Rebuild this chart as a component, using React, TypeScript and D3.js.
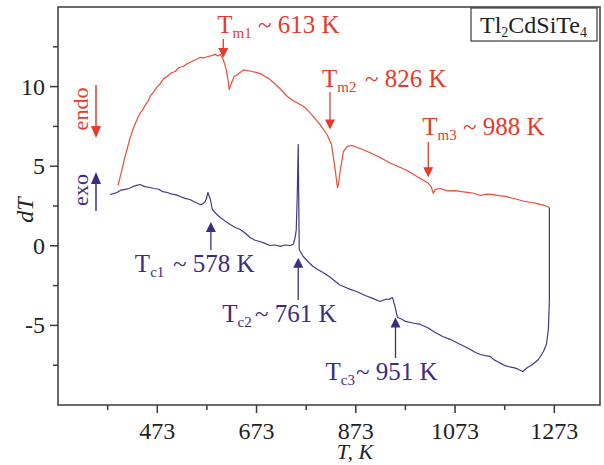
import React from "react";
import * as d3 from "d3";

// Heating (endo) curve: temperature K, dT
const heatT = [394, 398, 402, 407, 412, 418, 424, 429, 434, 440, 444, 450, 454, 460, 465, 472, 479, 486, 493, 501, 509, 517, 525, 534, 543, 551, 559, 567, 575, 583, 590, 595, 600, 606, 612, 616, 618, 622, 628, 634, 640, 647, 654, 664, 674, 682, 690, 698, 707, 721, 735, 748, 761, 768, 775, 788, 801, 815, 824, 830, 834, 836, 838, 842, 848, 856, 866, 882, 896, 909, 922, 942, 963, 978, 993, 1005, 1017, 1025, 1029, 1033, 1043, 1058, 1074, 1086, 1098, 1111, 1124, 1137, 1150, 1162, 1174, 1187, 1199, 1212, 1225, 1235, 1245, 1252, 1259, 1263];
const heatV = [3.79, 4.3, 4.79, 5.5, 6.05, 6.75, 7.31, 7.7, 8.06, 8.4, 8.56, 8.9, 9.06, 9.45, 9.63, 9.95, 10.19, 10.5, 10.63, 10.85, 10.95, 11.2, 11.26, 11.45, 11.58, 11.7, 11.83, 11.8, 11.89, 11.95, 12.02, 11.92, 12.02, 11.7, 11.07, 10.32, 9.82, 10.19, 10.63, 10.75, 10.88, 11.05, 11.01, 10.95, 10.88, 10.8, 10.63, 10.5, 10.26, 9.85, 9.38, 9.1, 8.87, 8.75, 8.56, 8.1, 7.61, 6.99, 6.36, 5.11, 4.16, 3.66, 3.85, 4.79, 5.92, 6.24, 6.3, 6.11, 5.92, 5.75, 5.55, 5.2, 4.92, 4.7, 4.42, 4.2, 3.98, 3.72, 3.29, 3.54, 3.6, 3.45, 3.47, 3.4, 3.35, 3.3, 3.16, 3.25, 3.22, 3.15, 3.1, 3.0, 2.91, 2.8, 2.72, 2.68, 2.59, 2.55, 2.47, 2.41];

// Cooling (exo) curve: temperature K, dT (from the hottest point back down)
const coolT = [1263, 1263, 1263, 1261, 1257, 1251, 1241, 1229, 1219, 1209, 1200, 1191, 1182, 1174, 1166, 1158, 1151, 1144, 1134, 1124, 1114, 1104, 1084, 1064, 1048, 1033, 1018, 1003, 988, 973, 965, 957, 951, 947, 940, 932, 922, 907, 892, 877, 862, 848, 840, 832, 820, 807, 797, 787, 777, 767, 759, 758, 757, 755, 753, 751, 749, 747, 741, 731, 721, 710, 700, 690, 680, 670, 660, 650, 640, 630, 620, 610, 600, 592, 584, 580, 575, 572, 569, 564, 559, 552, 546, 539, 529, 519, 511, 503, 493, 484, 476, 467, 458, 448, 438, 431, 424, 416, 408, 400, 392, 385, 378];
const coolV = [2.41, -0.86, -3.37, -5.25, -6.2, -6.64, -7.14, -7.46, -7.65, -7.9, -7.75, -7.65, -7.6, -7.53, -7.4, -7.27, -7.15, -6.95, -6.9, -6.83, -6.7, -6.51, -6.2, -5.89, -5.7, -5.45, -5.15, -4.94, -4.85, -4.75, -4.6, -4.5, -3.7, -3.25, -3.35, -3.37, -3.5, -3.3, -3.12, -2.9, -2.74, -2.56, -2.45, -2.24, -1.95, -1.68, -1.5, -1.3, -1.0, -0.67, -0.23, 3.1, 6.37, 3.1, 1.0, 0.58, 0.3, 0.1, 0.02, 0.05, -0.04, 0.05, 0.02, 0.15, 0.27, 0.35, 0.52, 0.8, 1.02, 1.15, 1.34, 1.55, 1.78, 2.0, 2.28, 2.91, 3.35, 2.95, 2.75, 2.62, 2.59, 2.7, 2.78, 2.91, 2.98, 3.1, 3.2, 3.25, 3.35, 3.4, 3.55, 3.6, 3.66, 3.72, 3.85, 3.8, 3.72, 3.6, 3.54, 3.5, 3.35, 3.28, 3.22];

const xMajor = [473, 673, 873, 1073, 1273];
const xMinor = [373, 573, 773, 973, 1173];
const yMajor = [-5, 0, 5, 10];
const yMinor = [-7.5, -2.5, 2.5, 7.5, 12.5];

const heatLabels = [
  { t: "T", sub: "m1", rest: "~ 613 K", at: 606, tipV: 11.8 },
  { t: "T", sub: "m2", rest: "~ 826 K", at: 821, tipV: 7.3 },
  { t: "T", sub: "m3", rest: "~ 988 K", at: 1019, tipV: 4.3 },
];
const coolLabels = [
  { t: "T", sub: "c1", rest: "~ 578 K", at: 581, tipV: 1.5 },
  { t: "T", sub: "c2", rest: "~ 761 K", at: 757, tipV: -0.75 },
  { t: "T", sub: "c3", rest: "~ 951 K", at: 953, tipV: -4.5 },
];

const W = 604;
const H = 465;
const M = { left: 58, right: 600, top: 7, bottom: 405 };
const RED = "#ef4a35";
const RED_TXT = "#e53a2c";
const BLUE = "#45378a";
const BLUE_TXT = "#3d2d82";
const FONT = "'Liberation Serif', 'Times New Roman', Times, serif";

export default function App() {
  const x = d3.scaleLinear().domain([273, 1365]).range([M.left, M.right]);
  const y = d3.scaleLinear().domain([-10, 15]).range([M.bottom, M.top]);
  const line = d3
    .line<[number, number]>()
    .x((d) => x(d[0]))
    .y((d) => y(d[1]));
  const heat = heatT.map((t, i) => [t, heatV[i]] as [number, number]);
  const cool = coolT.map((t, i) => [t, coolV[i]] as [number, number]);

  const heatText = [
    { tx: -6, ty: 33, sx: 258 },
    { tx: -8, ty: 87, sx: 365 },
    { tx: -6, ty: 135, sx: 463 },
  ];
  const heatArrowTop = [39, 92, 142];
  const coolText = [
    { tx: -76, ty: 272, sx: 173 },
    { tx: -76, ty: 322, sx: 255 },
    { tx: -70, ty: 380, sx: 356 },
  ];
  const coolArrowBottom = [250, 300, 358];

  return (
    <svg width={W} height={H} style={{ position: "absolute", left: 0, top: 0, fontFamily: FONT }}>
      <rect width={W} height={H} fill="#fff" />
      <path d={line(heat) || ""} fill="none" stroke={RED} strokeWidth={1.2} strokeLinejoin="round" />
      <path d={line(cool) || ""} fill="none" stroke={BLUE} strokeWidth={1.2} strokeLinejoin="round" />

      <rect x={M.left} y={M.top} width={M.right - M.left} height={M.bottom - M.top} fill="none" stroke="#3a3a3a" strokeWidth={1.5} />

      {xMajor.map((t) => (
        <g key={"xm" + t}>
          <line x1={x(t)} x2={x(t)} y1={M.bottom} y2={M.bottom + 8} stroke="#3a3a3a" strokeWidth={1.5} />
          <text x={x(t)} y={439} textAnchor="middle" fontSize={24} fill="#222">{t}</text>
        </g>
      ))}
      {xMinor.map((t) => (
        <line key={"xn" + t} x1={x(t)} x2={x(t)} y1={M.bottom} y2={M.bottom + 5} stroke="#3a3a3a" strokeWidth={1.5} />
      ))}
      {yMajor.map((v) => (
        <g key={"ym" + v}>
          <line x1={M.left - 8} x2={M.left} y1={y(v)} y2={y(v)} stroke="#3a3a3a" strokeWidth={1.5} />
          <text x={45} y={y(v) + 8} textAnchor="end" fontSize={24} fill="#222">{v}</text>
        </g>
      ))}
      {yMinor.map((v) => (
        <line key={"yn" + v} x1={M.left - 5} x2={M.left} y1={y(v)} y2={y(v)} stroke="#3a3a3a" strokeWidth={1.5} />
      ))}

      <text x={355} y={459} textAnchor="middle" fontSize={22} fontStyle="italic" fill="#222">T, K</text>
      <text transform="translate(33,210) rotate(-90)" textAnchor="middle" fontSize={24} fontStyle="italic" fill="#222">dT</text>

      <text transform="translate(88,109) rotate(-90)" textAnchor="middle" fontSize={22} fill={RED_TXT}>endo</text>
      <line x1={96} x2={96} y1={85} y2={128} stroke={RED_TXT} strokeWidth={1.5} />
      <path d="M91,126 L101,126 L96,138 Z" fill={RED_TXT} />
      <text transform="translate(88,190) rotate(-90)" textAnchor="middle" fontSize={22} fill={BLUE_TXT}>exo</text>
      <line x1={96} x2={96} y1={182} y2={211} stroke={BLUE_TXT} strokeWidth={1.5} />
      <path d="M91,184 L101,184 L96,172 Z" fill={BLUE_TXT} />

      {heatLabels.map((a, i) => {
        const ax = x(a.at);
        const tip = y(a.tipV);
        const l = heatText[i];
        return (
          <g key={"h" + i} fill={RED_TXT}>
            <line x1={ax} x2={ax} y1={heatArrowTop[i]} y2={tip - 8} stroke={RED_TXT} strokeWidth={1.3} />
            <path d={`M${ax - 5},${tip - 10} L${ax + 5},${tip - 10} L${ax},${tip} Z`} />
            <text x={ax + l.tx} y={l.ty} fontSize={25}>
              {a.t}
              <tspan fontSize={15} dy={5}>{a.sub}</tspan>
              <tspan x={l.sx} dy={-5}>{a.rest}</tspan>
            </text>
          </g>
        );
      })}

      {coolLabels.map((a, i) => {
        const ax = x(a.at);
        const tip = y(a.tipV);
        const l = coolText[i];
        return (
          <g key={"c" + i} fill={BLUE_TXT}>
            <line x1={ax} x2={ax} y1={tip + 8} y2={coolArrowBottom[i]} stroke={BLUE_TXT} strokeWidth={1.3} />
            <path d={`M${ax - 5},${tip + 10} L${ax + 5},${tip + 10} L${ax},${tip} Z`} />
            <text x={ax + l.tx} y={l.ty} fontSize={25}>
              {a.t}
              <tspan fontSize={15} dy={5}>{a.sub}</tspan>
              <tspan x={l.sx} dy={-5}>{a.rest}</tspan>
            </text>
          </g>
        );
      })}

      <rect x={471} y={8} width={126} height={33} fill="#fff" stroke="#3a3a3a" strokeWidth={1.2} />
      <text x={480} y={33} fontSize={24} fill="#222">
        Tl<tspan fontSize={14} dy={4}>2</tspan>
        <tspan dy={-4}>CdSiTe</tspan>
        <tspan fontSize={14} dy={4}>4</tspan>
      </text>
    </svg>
  );
}
